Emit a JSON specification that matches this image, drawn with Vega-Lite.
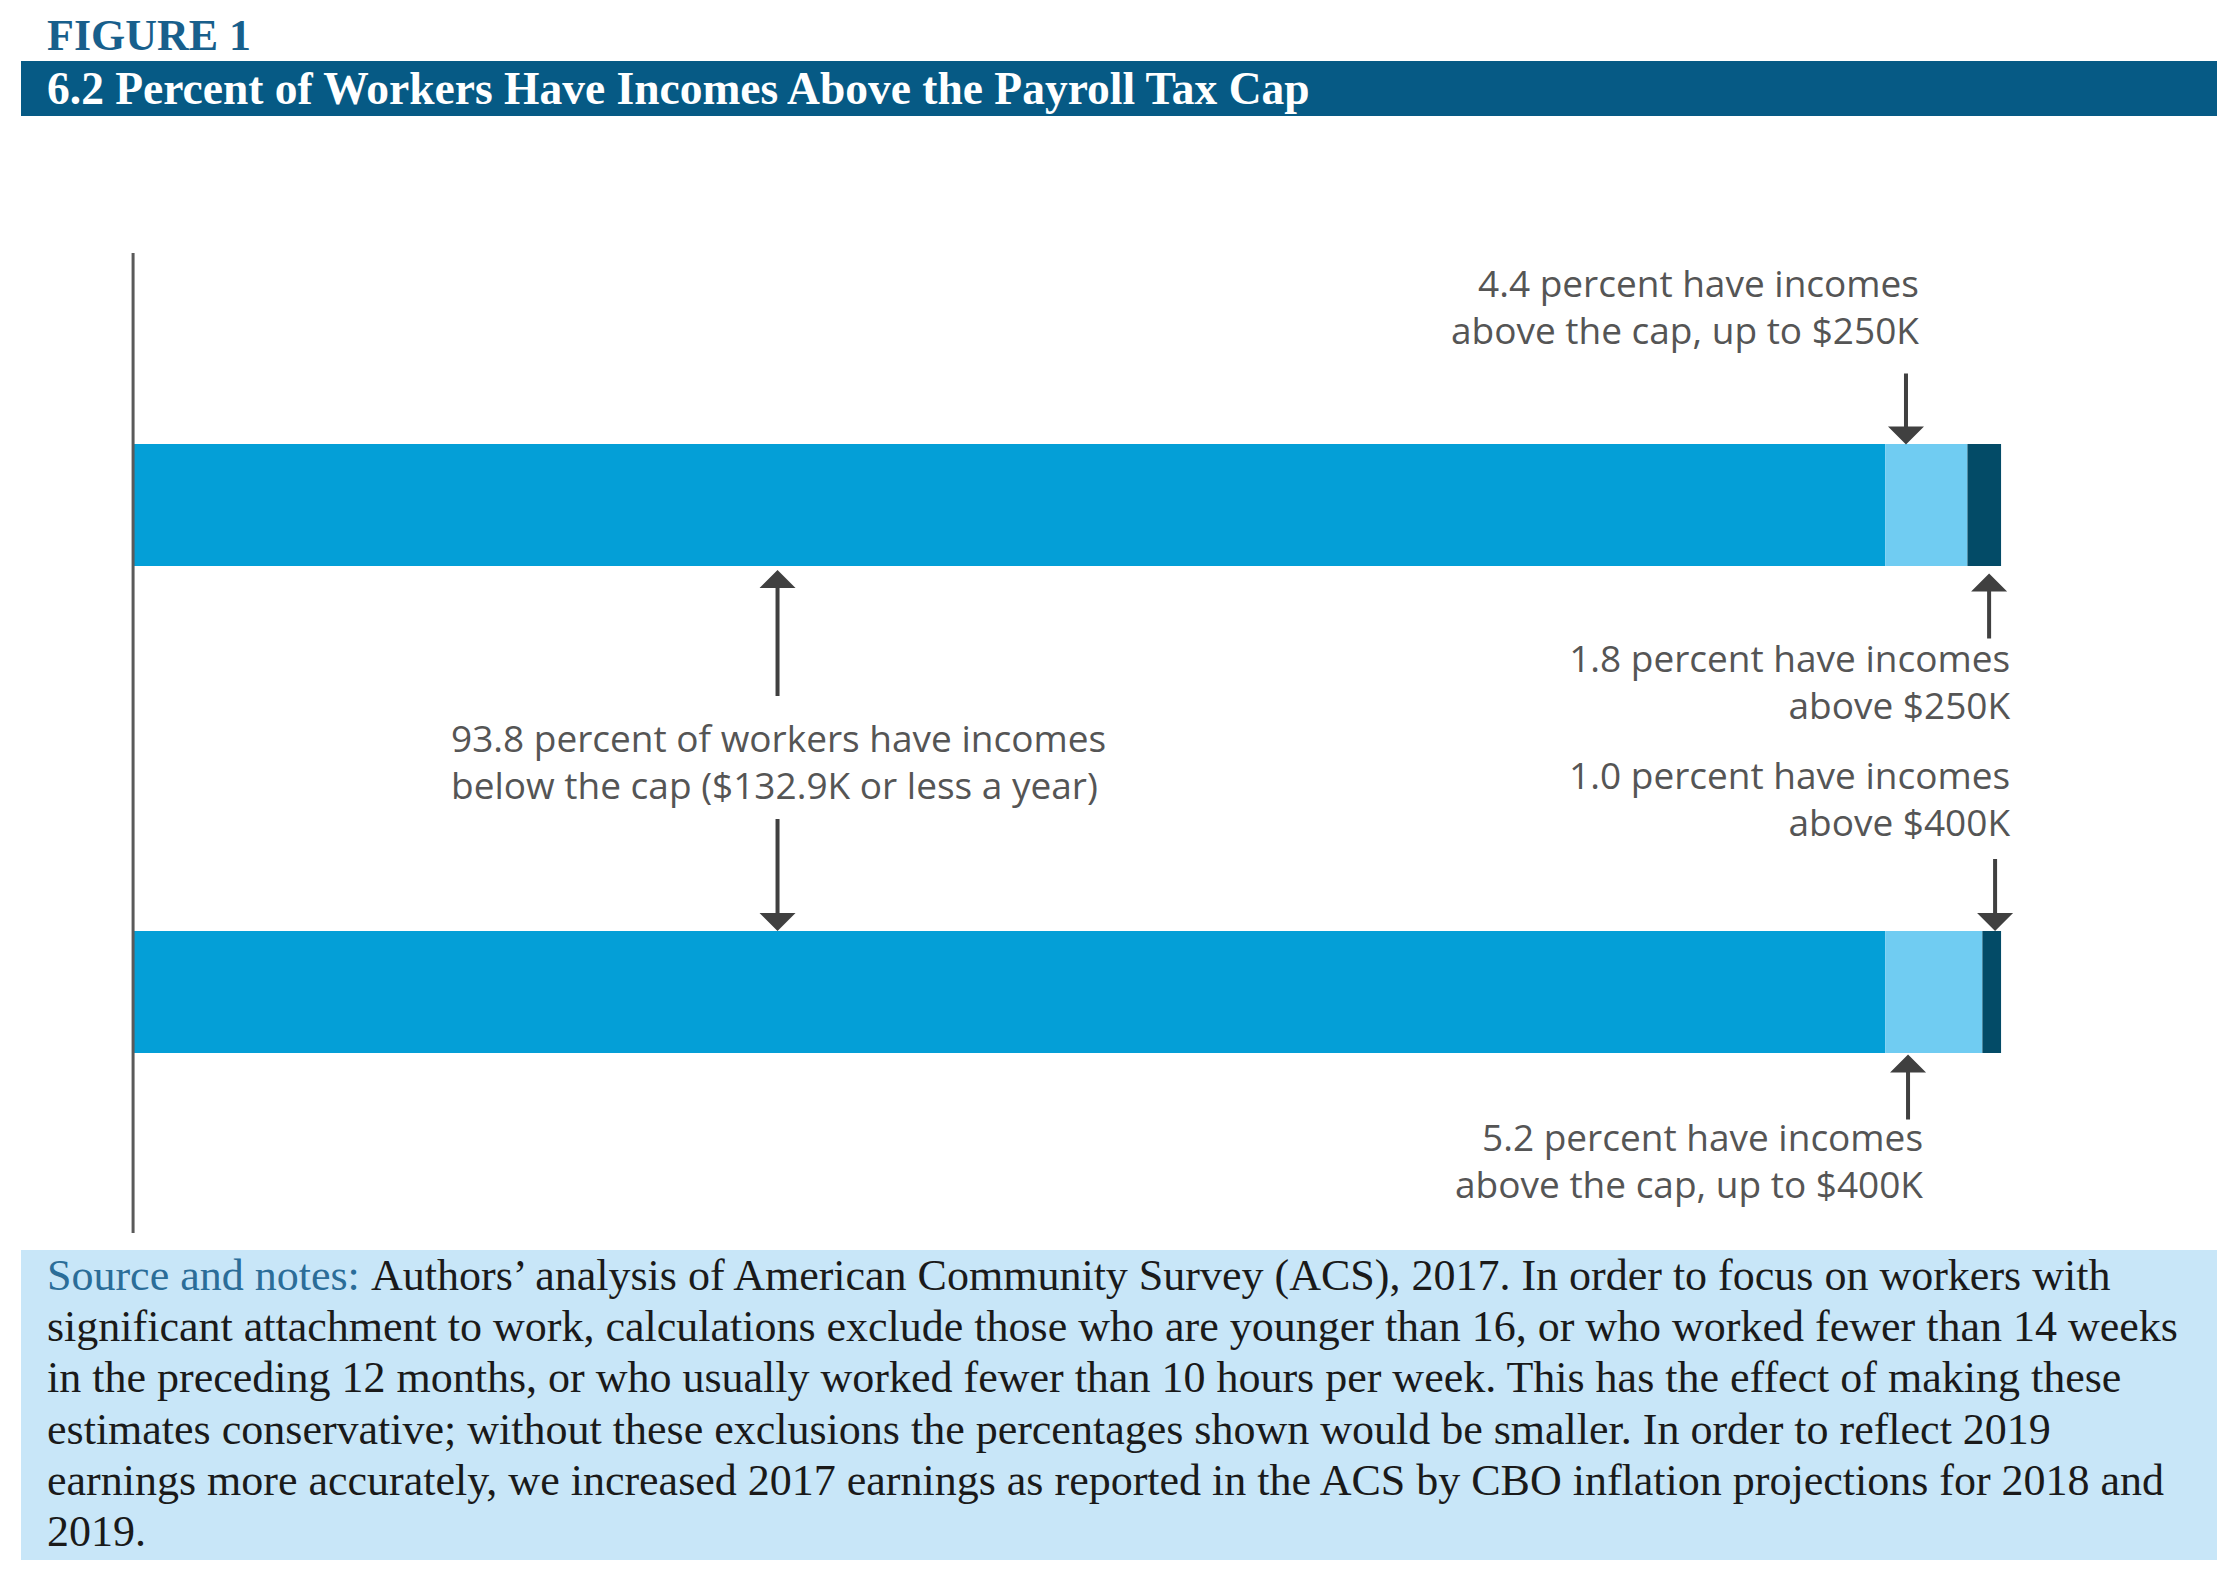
{
  "$schema": "https://vega.github.io/schema/vega-lite/v6.json",
  "background": "white",
  "padding": {"left": 21, "right": 23, "top": 15, "bottom": 34},
  "title": {"text": "FIGURE 1", "anchor": "start", "font": "Liberation Serif", "fontSize": 44, "fontWeight": "bold", "color": "#185f8c", "dx": 26, "offset": 2},
  "spacing": 15,
  "config": {"view": {"stroke": null}},
  "datasets": {
    "bars": [
      {"bar": "Breakdown at $250K", "segment": "Below the cap", "rank": 1, "pct": 93.8},
      {"bar": "Breakdown at $250K", "segment": "Above the cap, up to threshold", "rank": 2, "pct": 4.4},
      {"bar": "Breakdown at $250K", "segment": "Above threshold", "rank": 3, "pct": 1.8},
      {"bar": "Breakdown at $400K", "segment": "Below the cap", "rank": 1, "pct": 93.8},
      {"bar": "Breakdown at $400K", "segment": "Above the cap, up to threshold", "rank": 2, "pct": 5.2},
      {"bar": "Breakdown at $400K", "segment": "Above threshold", "rank": 3, "pct": 1.0}
    ],
    "notes": [
      {"id": "n1", "bar": "Breakdown at $250K", "pointsAt": 94.91, "text": "4.4 percent have incomes\nabove the cap, up to $250K"},
      {"id": "n2", "bar": "Breakdown at $250K", "pointsAt": 99.36, "text": "1.8 percent have incomes\nabove $250K"},
      {"id": "n3", "bar": "Breakdown at $400K", "pointsAt": 99.68, "text": "1.0 percent have incomes\nabove $400K"},
      {"id": "n4", "bar": "Breakdown at $400K", "pointsAt": 95.02, "text": "5.2 percent have incomes\nabove the cap, up to $400K"},
      {"id": "n5", "bar": "Breakdown at $250K", "pointsAt": 34.5, "text": "93.8 percent of workers have incomes\nbelow the cap ($132.9K or less a year)"}
    ],
    "arrows": [
      {"id": "a1", "bar": "Breakdown at $250K", "pointsAt": 94.91},
      {"id": "a2", "bar": "Breakdown at $250K", "pointsAt": 99.36},
      {"id": "a3", "bar": "Breakdown at $400K", "pointsAt": 99.68},
      {"id": "a4", "bar": "Breakdown at $400K", "pointsAt": 95.02},
      {"id": "a5", "bar": "Breakdown at $250K", "pointsAt": 34.5},
      {"id": "a6", "bar": "Breakdown at $400K", "pointsAt": 34.5}
    ],
    "source": [
      {"line": 1, "part": "label", "text": "Source and notes:"},
      {"line": 1, "part": "body", "text": "Authors’ analysis of American Community Survey (ACS), 2017. In order to focus on workers with"},
      {"line": 2, "part": "body", "text": "significant attachment to work, calculations exclude those who are younger than 16, or who worked fewer than 14 weeks"},
      {"line": 3, "part": "body", "text": "in the preceding 12 months, or who usually worked fewer than 10 hours per week. This has the effect of making these"},
      {"line": 4, "part": "body", "text": "estimates conservative; without these exclusions the percentages shown would be smaller. In order to reflect 2019"},
      {"line": 5, "part": "body", "text": "earnings more accurately, we increased 2017 earnings as reported in the ACS by CBO inflation projections for 2018 and"},
      {"line": 6, "part": "body", "text": "2019."}
    ]
  },
  "vconcat": [
    {
      "spacing": 135,
      "vconcat": [
        {
          "width": 2196,
          "height": 55,
          "view": {"fill": "#065a85", "stroke": null},
          "data": {"values": [{"label": "6.2 Percent of Workers Have Incomes Above the Payroll Tax Cap"}]},
          "mark": {"type": "text", "align": "left", "baseline": "alphabetic", "x": 26, "y": 43, "font": "Liberation Serif", "fontSize": 45.5, "fontWeight": "bold", "color": "#ffffff"},
          "encoding": {"text": {"field": "label", "type": "nominal"}}
        },
        {
          "width": 2196,
          "height": 980,
          "layer": [
            {
              "data": {"name": "bars"},
              "mark": {"type": "bar"},
              "encoding": {
                "y": {"field": "bar", "type": "nominal", "scale": {"domain": ["Breakdown at $250K", "Breakdown at $400K"], "paddingInner": 0.7495, "paddingOuter": 0.3809, "align": 0.5148}, "axis": null},
                "x": {"field": "pct", "type": "quantitative", "stack": "zero", "scale": {"domain": [-6, 111.56], "nice": false, "zero": false}, "axis": null},
                "color": {"field": "segment", "type": "nominal", "scale": {"domain": ["Below the cap", "Above the cap, up to threshold", "Above threshold"], "range": ["#049fd7", "#70ccf2", "#034b67"]}, "legend": null},
                "order": {"field": "rank", "type": "quantitative"}
              }
            },
            {
              "data": {"values": [{"edge": 0}]},
              "mark": {"type": "rule", "color": "#5a5a5a", "strokeWidth": 3},
              "encoding": {"x": {"field": "edge", "type": "quantitative"}}
            },
            {
              "data": {"name": "notes"},
              "transform": [{"filter": "datum.id === 'n1'"}],
              "mark": {"type": "text", "align": "right", "baseline": "middle", "lineBreak": "\n", "lineHeight": 47, "font": "Open Sans", "fontSize": 37, "color": "#555555", "dx": 13, "dy": -158},
              "encoding": {"x": {"field": "pointsAt", "type": "quantitative"}, "y": {"field": "bar", "type": "nominal", "bandPosition": 0}, "text": {"field": "text"}}
            },
            {
              "data": {"name": "notes"},
              "transform": [{"filter": "datum.id === 'n2'"}],
              "mark": {"type": "text", "align": "right", "baseline": "middle", "lineBreak": "\n", "lineHeight": 47, "font": "Open Sans", "fontSize": 37, "color": "#555555", "dx": 21, "dy": 95},
              "encoding": {"x": {"field": "pointsAt", "type": "quantitative"}, "y": {"field": "bar", "type": "nominal", "bandPosition": 1}, "text": {"field": "text"}}
            },
            {
              "data": {"name": "notes"},
              "transform": [{"filter": "datum.id === 'n3'"}],
              "mark": {"type": "text", "align": "right", "baseline": "middle", "lineBreak": "\n", "lineHeight": 47, "font": "Open Sans", "fontSize": 37, "color": "#555555", "dx": 15, "dy": -152.5},
              "encoding": {"x": {"field": "pointsAt", "type": "quantitative"}, "y": {"field": "bar", "type": "nominal", "bandPosition": 0}, "text": {"field": "text"}}
            },
            {
              "data": {"name": "notes"},
              "transform": [{"filter": "datum.id === 'n4'"}],
              "mark": {"type": "text", "align": "right", "baseline": "middle", "lineBreak": "\n", "lineHeight": 47, "font": "Open Sans", "fontSize": 37, "color": "#555555", "dx": 15, "dy": 87},
              "encoding": {"x": {"field": "pointsAt", "type": "quantitative"}, "y": {"field": "bar", "type": "nominal", "bandPosition": 1}, "text": {"field": "text"}}
            },
            {
              "data": {"name": "notes"},
              "transform": [{"filter": "datum.id === 'n5'"}],
              "mark": {"type": "text", "align": "left", "baseline": "middle", "lineBreak": "\n", "lineHeight": 47, "font": "Open Sans", "fontSize": 37, "color": "#555555", "dx": -326.5, "dy": 175.5},
              "encoding": {"x": {"field": "pointsAt", "type": "quantitative"}, "y": {"field": "bar", "type": "nominal", "bandPosition": 1}, "text": {"field": "text"}}
            },
            {
              "data": {"name": "arrows"},
              "transform": [{"filter": "datum.id === 'a1'"}],
              "mark": {"type": "point", "shape": "M-2,-71L2,-71L2,-18L18,-18L0,0L-18,-18L-2,-18Z", "size": 4, "filled": true, "opacity": 1, "color": "#404040", "strokeWidth": 0, "yOffset": 0.5},
              "encoding": {"x": {"field": "pointsAt", "type": "quantitative"}, "y": {"field": "bar", "type": "nominal", "bandPosition": 0}}
            },
            {
              "data": {"name": "arrows"},
              "transform": [{"filter": "datum.id === 'a2'"}],
              "mark": {"type": "point", "shape": "M-2,65L2,65L2,18L18,18L0,0L-18,18L-2,18Z", "size": 4, "filled": true, "opacity": 1, "color": "#404040", "strokeWidth": 0, "yOffset": 7.5},
              "encoding": {"x": {"field": "pointsAt", "type": "quantitative"}, "y": {"field": "bar", "type": "nominal", "bandPosition": 1}}
            },
            {
              "data": {"name": "arrows"},
              "transform": [{"filter": "datum.id === 'a3'"}],
              "mark": {"type": "point", "shape": "M-2,-72L2,-72L2,-18L18,-18L0,0L-18,-18L-2,-18Z", "size": 4, "filled": true, "opacity": 1, "color": "#404040", "strokeWidth": 0, "yOffset": 0},
              "encoding": {"x": {"field": "pointsAt", "type": "quantitative"}, "y": {"field": "bar", "type": "nominal", "bandPosition": 0}}
            },
            {
              "data": {"name": "arrows"},
              "transform": [{"filter": "datum.id === 'a4'"}],
              "mark": {"type": "point", "shape": "M-2,65L2,65L2,18L18,18L0,0L-18,18L-2,18Z", "size": 4, "filled": true, "opacity": 1, "color": "#404040", "strokeWidth": 0, "yOffset": 1.5},
              "encoding": {"x": {"field": "pointsAt", "type": "quantitative"}, "y": {"field": "bar", "type": "nominal", "bandPosition": 1}}
            },
            {
              "data": {"name": "arrows"},
              "transform": [{"filter": "datum.id === 'a5'"}],
              "mark": {"type": "point", "shape": "M-2,126L2,126L2,18L18,18L0,0L-18,18L-2,18Z", "size": 4, "filled": true, "opacity": 1, "color": "#404040", "strokeWidth": 0, "yOffset": 4},
              "encoding": {"x": {"field": "pointsAt", "type": "quantitative"}, "y": {"field": "bar", "type": "nominal", "bandPosition": 1}}
            },
            {
              "data": {"name": "arrows"},
              "transform": [{"filter": "datum.id === 'a6'"}],
              "mark": {"type": "point", "shape": "M-2,-112L2,-112L2,-18L18,-18L0,0L-18,-18L-2,-18Z", "size": 4, "filled": true, "opacity": 1, "color": "#404040", "strokeWidth": 0, "yOffset": 0},
              "encoding": {"x": {"field": "pointsAt", "type": "quantitative"}, "y": {"field": "bar", "type": "nominal", "bandPosition": 0}}
            }
          ]
        }
      ]
    },
    {
      "width": 2196,
      "height": 310,
      "view": {"fill": "#c8e6f8", "stroke": null},
      "data": {"name": "source"},
      "encoding": {
        "y": {"field": "line", "type": "ordinal", "scale": {"type": "point", "padding": 0.521, "align": 0.742}, "axis": null},
        "text": {"field": "text"}
      },
      "layer": [
        {
          "transform": [{"filter": "datum.part === 'label'"}],
          "mark": {"type": "text", "align": "left", "baseline": "alphabetic", "x": 26, "font": "Liberation Serif", "fontSize": 44, "color": "#2b6d98"}
        },
        {
          "transform": [{"filter": "datum.part === 'body' && datum.line === 1"}],
          "mark": {"type": "text", "align": "left", "baseline": "alphabetic", "x": 26, "dx": 324, "font": "Liberation Serif", "fontSize": 44, "color": "#1a1a1a"}
        },
        {
          "transform": [{"filter": "datum.line > 1"}],
          "mark": {"type": "text", "align": "left", "baseline": "alphabetic", "x": 26, "font": "Liberation Serif", "fontSize": 44, "color": "#1a1a1a"}
        }
      ]
    }
  ]
}
